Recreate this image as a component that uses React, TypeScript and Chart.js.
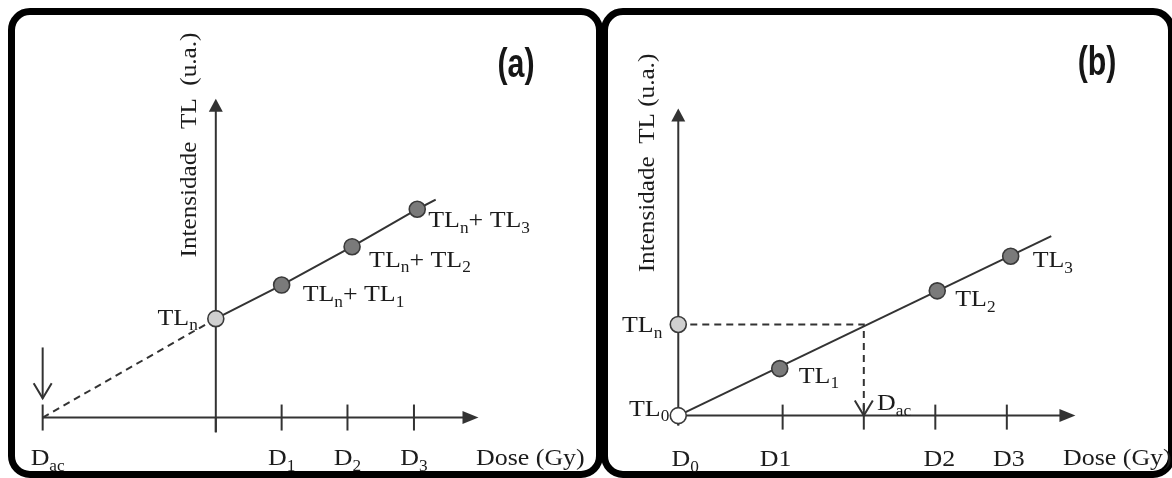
import React, { useEffect, useRef } from "react";
import { Chart, registerables } from "chart.js";

Chart.register(...registerables);

// ---------------- Panel (a): additive dose ----------------
const tickDosesA = [-2.63, 0, 1.0, 2.0, 3.01];
const tickLabelsA = ["D_{ac}", "", "D_{1}", "D_{2}", "D_{3}"];
const pointDosesA = [0, 1.0, 2.07, 3.06];
const pointTLA = [1.03, 1.38, 1.78, 2.17];
const pointLabelsA = ["TL_{n}", "TL_{n}+ TL_{1}", "TL_{n}+ TL_{2}", "TL_{n}+ TL_{3}"];
const fitDoseA = [0, 1.0, 2.07, 3.06, 3.34];
const fitTLA = [1.03, 1.38, 1.78, 2.17, 2.27];
const extrapDoseA = [-2.63, 0];
const extrapTLA = [0, 1.03];
const dacArrowA = [-2.63, 0.73, 0.2]; // dose, from, to

// ---------------- Panel (b): regenerative / calibration ----------------
const tickDosesB = [0, 1.08, 1.92, 2.66, 3.4];
const tickLabelsB = ["D_{0}", "D1", "", "D2", "D3"];
const pointDosesB = [0, 1.05, 2.68, 3.44, 0];
const pointTLB = [0, 0.49, 1.3, 1.66, 0.95];
const pointLabelsB = ["TL_{0}", "TL_{1}", "TL_{2}", "TL_{3}", "TL_{n}"];
const fitDoseB = [0, 3.86];
const fitTLB = [0, 1.87];
const projDoseB = [0, 1.92, 1.92];
const projTLB = [0.95, 0.95, 0];
const dacArrowB = [1.92, 0, 0];

const SERIF = '"Liberation Serif", "Times New Roman", Times, serif';
const INK = "#1c1c1c";
const AXIS = "#333333";
const TEXT_STRETCH = 1.08;
const FONT_SIZE = 24;

function parseRich(text: string) {
  const parts: { t: string; sub: boolean }[] = [];
  const re = /_\{([^}]*)\}/g;
  let last = 0;
  let m: RegExpExecArray | null;
  while ((m = re.exec(text))) {
    if (m.index > last) parts.push({ t: text.slice(last, m.index), sub: false });
    parts.push({ t: m[1], sub: true });
    last = m.index + m[0].length;
  }
  if (last < text.length) parts.push({ t: text.slice(last), sub: false });
  return parts;
}

function drawRich(ctx: CanvasRenderingContext2D, text: string, x: number, y: number, align: string, size: number) {
  const parts = parseRich(text);
  const mainF = `${size}px ${SERIF}`;
  const subF = `${Math.round(size * 0.66)}px ${SERIF}`;
  let w = 0;
  for (const p of parts) {
    ctx.font = p.sub ? subF : mainF;
    w += ctx.measureText(p.t).width;
  }
  w *= TEXT_STRETCH;
  const left = align === "right" ? x - w : align === "center" ? x - w / 2 : x;
  ctx.save();
  ctx.translate(left, y);
  ctx.scale(TEXT_STRETCH, 1);
  ctx.textAlign = "left";
  ctx.textBaseline = "alphabetic";
  let cx = 0;
  for (const p of parts) {
    ctx.font = p.sub ? subF : mainF;
    ctx.fillText(p.t, cx, p.sub ? size * 0.24 : 0);
    cx += ctx.measureText(p.t).width;
  }
  ctx.restore();
}

function makePlugin(spec: any) {
  return {
    id: "diagram_" + spec.id,
    beforeDatasetsDraw(chart: any) {
      const { ctx } = chart;
      const X = (v: number) => chart.scales.x.getPixelForValue(v);
      const Y = (v: number) => chart.scales.y.getPixelForValue(v);
      const x0 = X(0);
      const y0 = Y(0);
      ctx.save();
      ctx.strokeStyle = AXIS;
      ctx.fillStyle = AXIS;
      ctx.lineWidth = 2;
      const seg = (a: number, b: number, c: number, d: number) => {
        ctx.beginPath();
        ctx.moveTo(a, b);
        ctx.lineTo(c, d);
        ctx.stroke();
      };
      // x axis with filled arrow
      const xTip = X(spec.xAxisTo);
      seg(X(spec.xAxisFrom), y0, xTip - 12, y0);
      ctx.beginPath();
      ctx.moveTo(xTip, y0);
      ctx.lineTo(xTip - 16, y0 - 6.5);
      ctx.lineTo(xTip - 16, y0 + 6.5);
      ctx.closePath();
      ctx.fill();
      // y axis with filled arrow
      const yTip = Y(spec.yAxisTo);
      seg(x0, Y(spec.yAxisFrom), x0, yTip + 10);
      ctx.beginPath();
      ctx.moveTo(x0, yTip);
      ctx.lineTo(x0 - 7, yTip + 13);
      ctx.lineTo(x0 + 7, yTip + 13);
      ctx.closePath();
      ctx.fill();
      // ticks
      for (const d of spec.ticks) {
        if (d === 0) continue;
        seg(X(d), y0 - spec.tickUp, X(d), y0 + spec.tickDown);
      }
      seg(x0, y0, x0, y0 + spec.originDown);
      // open arrow
      const a = spec.openArrow;
      const ax = X(a[0]);
      const tipY = Y(a[2]);
      if (a[1] !== a[2]) seg(ax, Y(a[1]), ax, tipY);
      ctx.beginPath();
      ctx.moveTo(ax - 9, tipY - 15);
      ctx.lineTo(ax, tipY);
      ctx.lineTo(ax + 9, tipY - 15);
      ctx.stroke();
      ctx.restore();
    },
    afterDatasetsDraw(chart: any) {
      const { ctx } = chart;
      const X = (v: number) => chart.scales.x.getPixelForValue(v);
      const Y = (v: number) => chart.scales.y.getPixelForValue(v);
      ctx.save();
      ctx.fillStyle = INK;
      spec.ticks.forEach((d: number, i: number) => {
        const lab = spec.tickLabels[i];
        if (!lab) return;
        drawRich(ctx, lab, X(d) + (spec.tickLabelDx[i] || 0), spec.tickLabelY, "center", FONT_SIZE);
      });
      spec.pointX.forEach((d: number, i: number) => {
        const o = spec.pointLabelOffsets[i];
        drawRich(ctx, spec.pointLabels[i], X(d) + o[0], Y(spec.pointY[i]) + o[1], o[2], FONT_SIZE);
      });
      for (const e of spec.extra) {
        drawRich(ctx, e.text, e.x, e.y, e.align, FONT_SIZE);
      }
      // axis title (rotated)
      ctx.save();
      ctx.translate(spec.yTitle.x, spec.yTitle.y);
      ctx.rotate(-Math.PI / 2);
      ctx.scale(TEXT_STRETCH * 0.97, 1);
      ctx.font = `${FONT_SIZE}px ${SERIF}`;
      ctx.textAlign = "center";
      ctx.textBaseline = "alphabetic";
      ctx.fillText(spec.yTitle.text, 0, 0);
      ctx.restore();
      // panel tag
      ctx.save();
      ctx.translate(spec.tag.x, spec.tag.y);
      ctx.scale(0.74, 1);
      ctx.font = 'bold 41px "Liberation Sans", Arial, sans-serif';
      ctx.textAlign = "center";
      ctx.textBaseline = "alphabetic";
      ctx.fillStyle = "#161616";
      ctx.fillText(spec.tag.text, 0, 0);
      ctx.restore();
      ctx.restore();
    },
  };
}

function xy(xs: number[], ys: number[]) {
  return xs.map((x, i) => ({ x, y: ys[i] }));
}

function buildConfig(spec: any, datasets: any[]) {
  return {
    type: "scatter" as const,
    data: { datasets },
    options: {
      animation: false as const,
      responsive: false,
      events: [],
      layout: { padding: 0 },
      plugins: { legend: { display: false }, tooltip: { enabled: false } },
      scales: {
        x: { type: "linear" as const, display: false, min: spec.xMin, max: spec.xMax },
        y: { type: "linear" as const, display: false, min: spec.yMin, max: spec.yMax },
      },
    },
    plugins: [makePlugin(spec)],
  };
}

const lineDs = (data: any[], dash: number[] = []) => ({
  data,
  showLine: true,
  borderColor: AXIS,
  borderWidth: 2,
  borderDash: dash,
  pointRadius: 0,
  clip: false,
  order: 2,
});

const pointDs = (data: any[], fills: string[]) => ({
  data,
  showLine: false,
  pointRadius: 8,
  pointBackgroundColor: fills,
  pointBorderColor: "#3a3a3a",
  pointBorderWidth: 1.6,
  clip: false,
  order: 0,
});

const specA = {
  id: "a",
  xMin: -213 / 68,
  xMax: (602 - 213) / 68,
  yMin: -0.53,
  yMax: 4.25,
  xAxisFrom: -2.63,
  xAxisTo: 3.99,
  yAxisFrom: -0.15,
  yAxisTo: 3.32,
  tickUp: 13,
  tickDown: 13,
  originDown: 15,
  ticks: tickDosesA,
  tickLabels: tickLabelsA,
  tickLabelDx: [5, 0, 0, 0, 0],
  tickLabelY: 465,
  pointX: pointDosesA,
  pointY: pointTLA,
  pointLabels: pointLabelsA,
  pointLabelOffsets: [
    [-18, 6, "right"],
    [21, 16, "left"],
    [17, 20, "left"],
    [11, 18, "left"],
  ],
  openArrow: dacArrowA,
  extra: [{ text: "Dose (Gy)", x: 476, y: 465, align: "left" }],
  yTitle: { text: "Intensidade  TL  (u.a.)", x: 196, y: 145 },
  tag: { text: "(a)", x: 516, y: 77 },
};

const specB = {
  id: "b",
  xMin: -0.69,
  xMax: (570 - 69) / 100,
  yMin: -0.55,
  yMax: 4.23,
  xAxisFrom: 0,
  xAxisTo: 4.11,
  yAxisFrom: -0.1,
  yAxisTo: 3.2,
  tickUp: 11,
  tickDown: 14,
  originDown: 10,
  ticks: tickDosesB,
  tickLabels: tickLabelsB,
  tickLabelDx: [7, -7, 0, 4, 2],
  tickLabelY: 466,
  pointX: pointDosesB,
  pointY: pointTLB,
  pointLabels: pointLabelsB,
  pointLabelOffsets: [
    [-9, 0, "right"],
    [19, 14, "left"],
    [18, 15, "left"],
    [22, 11, "left"],
    [-16, 8, "right"],
  ],
  openArrow: dacArrowB,
  extra: [
    { text: "D_{ac}", x: 275, y: 410, align: "left" },
    { text: "Dose (Gy)", x: 461, y: 465, align: "left" },
  ],
  yTitle: { text: "Intensidade  TL (u.a.)", x: 52, y: 163 },
  tag: { text: "(b)", x: 495, y: 75 },
};

export default function App() {
  const refA = useRef<HTMLCanvasElement>(null);
  const refB = useRef<HTMLCanvasElement>(null);

  useEffect(() => {
    const chartA = new Chart(
      refA.current as HTMLCanvasElement,
      buildConfig(specA, [
        lineDs(xy(extrapDoseA, extrapTLA), [7, 5]),
        lineDs(xy(fitDoseA, fitTLA)),
        pointDs(xy(pointDosesA, pointTLA), ["#d0d0d0", "#7a7a7a", "#7a7a7a", "#7a7a7a"]),
      ]) as any
    );
    const chartB = new Chart(
      refB.current as HTMLCanvasElement,
      buildConfig(specB, [
        lineDs(xy(projDoseB, projTLB), [7, 5]),
        lineDs(xy(fitDoseB, fitTLB)),
        pointDs(xy(pointDosesB, pointTLB), ["#ffffff", "#7a7a7a", "#7a7a7a", "#7a7a7a", "#d0d0d0"]),
      ]) as any
    );
    return () => {
      chartA.destroy();
      chartB.destroy();
    };
  }, []);

  const box = (left: number, width: number): React.CSSProperties => ({
    position: "absolute",
    left,
    top: 8,
    width,
    height: 470,
    border: "7px solid #000",
    borderRadius: 22,
    boxSizing: "border-box",
  });

  return (
    <div style={{ position: "absolute", left: 0, top: 0, width: 1172, height: 478, background: "#fff", overflow: "hidden" }}>
      <div style={box(8, 595)} />
      <div style={box(601, 574)} />
      <canvas ref={refA} width={602} height={478} style={{ position: "absolute", left: 0, top: 0, width: 602, height: 478 }} />
      <canvas ref={refB} width={570} height={478} style={{ position: "absolute", left: 602, top: 0, width: 570, height: 478 }} />
    </div>
  );
}
